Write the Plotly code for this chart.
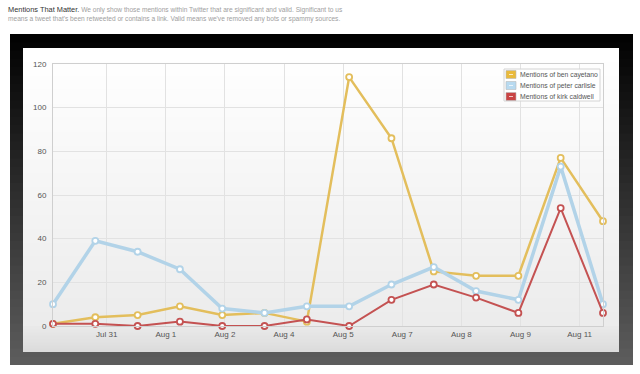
import plotly.graph_objects as go

# ---- data ----
point_index = list(range(14))
ben_cayetano = [1, 4, 5, 9, 5, 6, 2, 114, 86, 25, 23, 23, 77, 48]
peter_carlisle = [10, 39, 34, 26, 8, 6, 9, 9, 19, 27, 16, 12, 73, 10]
kirk_caldwell = [1, 1, 0, 2, 0, 0, 3, 0, 12, 19, 13, 6, 54, 6]
tick_labels = ["Jul 31", "Aug 1", "Aug 2", "Aug 4", "Aug 5", "Aug 7", "Aug 8", "Aug 9", "Aug 11"]
tick_positions = [1.27 + 1.397 * k for k in range(len(tick_labels))]
series_names = ["Mentions of ben cayetano", "Mentions of peter carlisle", "Mentions of kirk caldwell"]

line_colors = ["#E3BE5C", "#B2D3E8", "#C45252"]
swatch_colors = ["#E9BA3C", "#B8DAF0", "#C94444"]
line_widths = [2.5, 3.5, 2]

W, H = 640, 374
L, R, T, B = 53, 37, 64, 48
PW, PH = W - L - R, H - T - B
NARROW = "Liberation Sans Narrow, Arial Narrow, Liberation Sans, sans-serif"


def px(x):
    return (x - L) / PW


def py(y):
    return (H - B - y) / PH


def lerp_color(c1, c2, t):
    a = [int(c1[i:i + 2], 16) for i in (1, 3, 5)]
    b = [int(c2[i:i + 2], 16) for i in (1, 3, 5)]
    return "rgb(%d,%d,%d)" % tuple(round(a[i] + (b[i] - a[i]) * t) for i in range(3))


shapes = []
annotations = []


def gradient_rect(x0, y0, x1, y1, c_top, c_bot, n=40):
    h = (y1 - y0) / n
    for i in range(n):
        top = y0 + i * h
        bot = min(y1, y0 + (i + 1) * h + 1.0)
        shapes.append(dict(
            type="rect", xref="paper", yref="paper", layer="below",
            x0=px(x0), x1=px(x1), y0=py(top), y1=py(bot),
            fillcolor=lerp_color(c_top, c_bot, i / (n - 1)), line=dict(width=0)))


gradient_rect(10, 34, 633, 365, "#020202", "#5c5c5c")
gradient_rect(23, 48, 619, 326, "#ffffff", "#ececec", n=40)
gradient_rect(23, 326, 619, 352, "#e9e9e9", "#dcdcdc", n=8)

# custom legend box
shapes.append(dict(type="rect", xref="paper", yref="paper", layer="above",
                   x0=px(504), x1=px(600), y0=py(69), y1=py(101),
                   fillcolor="rgba(255,255,255,0.85)", line=dict(color="#d4d4d4", width=1)))
for i, (name, col) in enumerate(zip(series_names, swatch_colors)):
    cy = 74.5 + i * 11
    shapes.append(dict(type="rect", xref="paper", yref="paper", layer="above",
                       x0=px(506), x1=px(516), y0=py(cy - 4), y1=py(cy + 4),
                       fillcolor=col, line=dict(color="#bbbbbb", width=0.6)))
    shapes.append(dict(type="line", xref="paper", yref="paper", layer="above",
                       x0=px(509), x1=px(513), y0=py(cy), y1=py(cy),
                       line=dict(color="rgba(255,255,255,0.7)", width=1)))
    annotations.append(dict(xref="paper", yref="paper", x=px(518), y=py(cy),
                            xanchor="left", yanchor="middle", showarrow=False, text=name,
                            font=dict(family=NARROW, size=6.8, color="#555555")))

annotations.append(dict(
    xref="paper", yref="paper", x=px(6), y=py(3), xanchor="left", yanchor="top",
    align="left", showarrow=False,
    font=dict(family=NARROW, size=6.6, color="#a0a0a0"),
    text="<span style='color:#333333;font-size:7.4px'>Mentions That Matter.</span> We only show those mentions within Twitter that are significant and valid. Significant to us<br>means a tweet that's been retweeted or contains a link. Valid means we've removed any bots or spammy sources."))

fig = go.Figure()
all_series = [ben_cayetano, peter_carlisle, kirk_caldwell]
for vals, name, col, lw in zip(all_series, series_names, line_colors, line_widths):
    fig.add_trace(go.Scatter(
        x=point_index, y=vals, mode="lines+markers", name=name, showlegend=False,
        line=dict(color=col, width=lw),
        marker=dict(symbol="circle", size=6, color="white", line=dict(color=col, width=1.8)),
        cliponaxis=False))

fig.update_layout(
    width=W, height=H,
    margin=dict(l=L, r=R, t=T, b=B, autoexpand=False),
    paper_bgcolor="white",
    plot_bgcolor="rgba(0,0,0,0)",
    shapes=shapes,
    annotations=annotations,
    showlegend=False,
    font=dict(family="Liberation Sans, Arial, sans-serif", size=8, color="#555555"),
    xaxis=dict(range=[0, 13], tickmode="array", tickvals=tick_positions, ticktext=tick_labels,
               showgrid=True, gridcolor="#e2e2e2", gridwidth=1, zeroline=False,
               showline=True, linecolor="#cfcfcf", mirror=True, ticks="", automargin=False,
               tickfont=dict(size=8, color="#555555")),
    yaxis=dict(range=[0, 120], dtick=20, showgrid=True, gridcolor="#e2e2e2", gridwidth=1,
               zeroline=False, showline=True, linecolor="#cfcfcf", mirror=True, ticks="",
               automargin=False, ticklabelstandoff=4, tickfont=dict(size=8, color="#555555")),
)

fig.write_html("out.html", config={"displayModeBar": False},
               post_script="document.body.style.margin='0px';")
